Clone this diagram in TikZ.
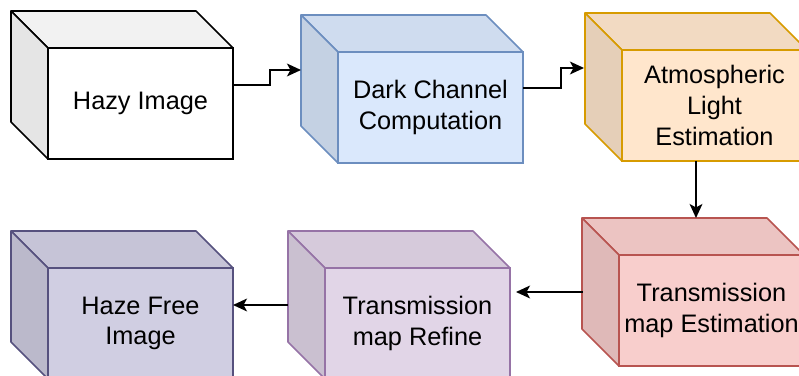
\documentclass[tikz,border=0pt]{standalone}
\usepackage{fontspec}
\setmainfont{Liberation Sans}
\usepackage{tikz}
\usetikzlibrary{arrows.meta,calc,positioning}
\definecolor{azulF}{HTML}{DAE8FC}\definecolor{azulB}{HTML}{6C8EBF}
\definecolor{naranjaF}{HTML}{FFE6CC}\definecolor{naranjaB}{HTML}{D79B00}
\definecolor{rojoF}{HTML}{F8CECC}\definecolor{rojoB}{HTML}{B85450}
\definecolor{lilaF}{HTML}{E1D5E7}\definecolor{lilaB}{HTML}{9673A6}
\definecolor{grisF}{HTML}{D0CEE2}\definecolor{grisB}{HTML}{56517E}
\tikzset{
  caja/.style={draw,line width=1.3pt,minimum width=5.55cm,minimum height=3.33cm,
    inner sep=0pt,outer sep=0pt,align=center,font=\fontsize{21.6}{26.1}\selectfont},
  cara/.style={line width=1.3pt,line join=round},
  flecha/.style={-{Stealth[length=12pt,width=11pt,inset=3pt]},line width=1.3pt}
}
\begin{document}
\begin{tikzpicture}[x=0.03cm,y=-0.03cm]
\useasboundingbox (0,0) rectangle (799,376);
\node[caja,fill=white,draw=black] (hazy) at (140.5,103.5) {Hazy Image};
\node[caja,fill=azulF,draw=azulB] (dark) at (430.5,107.5) {Dark Channel\\Computation};
\node[caja,fill=naranjaF,draw=naranjaB] (atmo) at (714.5,105.5) {Atmospheric\\Light\\Estimation};
\node[caja,fill=rojoF,draw=rojoB] (trans) at (711.5,310.5) {Transmission\\map Estimation};
\node[caja,fill=lilaF,draw=lilaB] (refine) at (417.5,323.5) {Transmission\\map Refine};
\node[caja,fill=grisF,draw=grisB] (free) at (140.5,323.5) {Haze Free\\Image};
\foreach \n/\f/\d in {hazy/white/black,dark/azulF/azulB,atmo/naranjaF/naranjaB,trans/rojoF/rojoB,refine/lilaF/lilaB,free/grisF/grisB}{
  \draw[cara,draw=\d,fill=\f!95!black] (\n.north west) -- ++(-37,-37) -- ++(185,0) -- (\n.north east) -- cycle;
  \draw[cara,draw=\d,fill=\f!90!black] (\n.north west) -- ++(-37,-37) -- ++(0,111) -- (\n.south west) -- cycle;
}
\draw[flecha] ($(hazy.east)+(0,-18.5)$) -- ++(37,0) |- ($(dark.west)+(-37,-37.5)$);
\draw[flecha] ($(dark.east)+(0,-19.5)$) -- ++(38,0) |- ($(atmo.west)+(-38,-37.5)$);
\coordinate (a1) at ($(atmo.south)+(-18.5,0)$);
\draw[flecha] (a1) -- (a1 |- {$(trans.north)+(0,-37)$});
\coordinate (a2) at ($(trans.west)+(-36,-18.5)$);
\draw[flecha] (a2) -- (a2 -| {$(refine.east)+(6,0)$});
\coordinate (a3) at ($(refine.west)+(-37,-18.5)$);
\draw[flecha] (a3) -- (a3 -| free.east);
\end{tikzpicture}
\end{document}
